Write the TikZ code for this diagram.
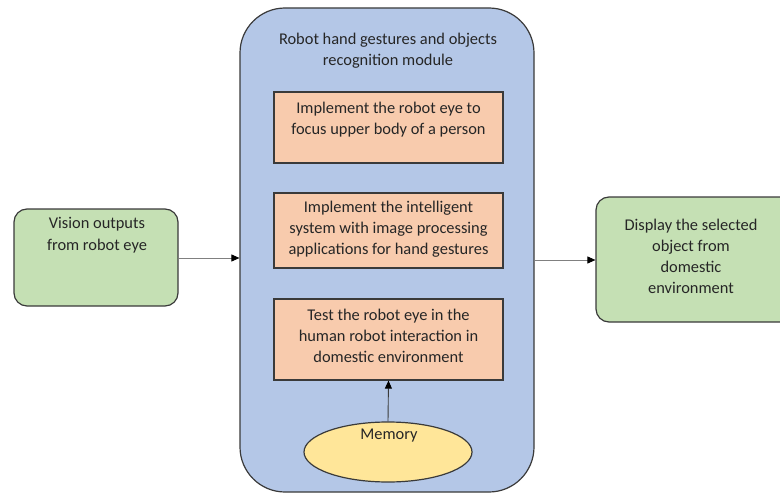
\documentclass[tikz,border=0pt]{standalone}
\usepackage{fontspec}
\setmainfont{Carlito}
\usetikzlibrary{shapes.geometric,arrows.meta}
\definecolor{modblue}{HTML}{B4C7E7}
\definecolor{steporange}{HTML}{F8CBAD}
\definecolor{iogreen}{HTML}{C5E0B4}
\definecolor{memyellow}{HTML}{FFE699}
\definecolor{edgegray}{HTML}{3A3A3A}
\tikzset{
  txt/.style={anchor=north,inner sep=0pt,align=center,text=black!85,font=\fontsize{16.4}{21.3}\selectfont},
  module/.style={draw=edgegray,line width=1.2pt,fill=modblue,rounded corners=45pt,minimum width=294pt,minimum height=484pt,inner sep=0pt},
  stepbox/.style={draw=edgegray,line width=1.2pt,fill=steporange,minimum width=229pt,inner sep=0pt},
  iobox/.style={draw=edgegray,line width=1.2pt,fill=iogreen,rounded corners=13pt,inner sep=0pt},
  membox/.style={draw=edgegray,line width=1.2pt,fill=memyellow,ellipse,minimum width=168pt,minimum height=60pt,inner sep=0pt},
  flow/.style={-{Triangle[length=8pt,width=7pt,color=black]},line width=0.9pt,draw=black!50},
  flowdark/.style={-{Triangle[length=8pt,width=7pt,color=black]},line width=0.9pt,draw=edgegray}
}
\begin{document}
\begin{tikzpicture}[x=1pt,y=-1pt]
\useasboundingbox (0,0) rectangle (780,495);
% module
\node[module] (mod) at (387,250) {};
\node[txt] (title) at (388,32.5) {Robot hand gestures and objects\\recognition module};
% steps
\node[stepbox,minimum height=71pt] (s1) at (388.5,127.5) {};
\node[txt] (t1) at (388.5,101.5) {Implement the robot eye to\\focus upper body of a person};
\node[stepbox,minimum height=75pt] (s2) at (388.5,230.5) {};
\node[txt] (t2) at (388.5,200.5) {Implement the intelligent\\system with image processing\\applications for hand gestures};
\node[stepbox,minimum height=81pt] (s3) at (388.5,339.5) {};
\node[txt] (t3) at (388.5,308.5) {Test the robot eye in the\\human robot interaction in\\domestic environment};
% memory
\node[membox] (mem) at (388,452) {};
\node[txt] (tm) at (389,428.5) {Memory};
% io boxes
\node[iobox,minimum width=164pt,minimum height=97pt] (in) at (96,257.5) {};
\node[txt] (tin) at (97,217.5) {Vision outputs\\from robot eye};
\node[iobox,minimum width=200pt,minimum height=125pt] (out) at (696,259.5) {};
\node[txt] (tout) at (691,218.5) {Display the selected\\object from\\domestic\\environment};
% connectors
\draw[flow] (in.east |- 0,258) -- (mod.west |- 0,258);
\draw[flow] (mod.east |- 0,260) -- (out.west |- 0,260);
\draw[flowdark] (mem.north) -- (s3.south);
\end{tikzpicture}
\end{document}
